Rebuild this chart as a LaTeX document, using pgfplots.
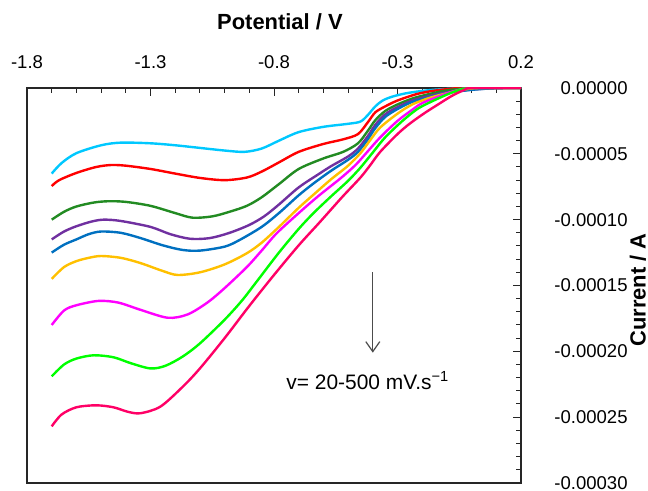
\documentclass[border=0pt]{standalone}
\usepackage{fontspec}
\setmainfont{Liberation Sans}
\usepackage{pgfplots}
\pgfplotsset{compat=1.18}
\usetikzlibrary{arrows.meta}

\definecolor{cC}{RGB}{0,200,255}
\definecolor{cR}{RGB}{255,0,0}
\definecolor{cG}{RGB}{34,139,34}
\definecolor{cP}{RGB}{112,48,160}
\definecolor{cB}{RGB}{0,112,192}
\definecolor{cO}{RGB}{255,192,0}
\definecolor{cM}{RGB}{255,0,255}
\definecolor{cL}{RGB}{0,255,0}
\definecolor{cK}{RGB}{255,0,102}

\begin{document}
\begin{tikzpicture}
\path[use as bounding box] (-13.5bp,-4bp) rectangle (310.5bp,241.5bp);
\begin{axis}[
  scale only axis,
  width=247bp, height=197.5bp,
  xmin=-1.8, xmax=0.2,
  ymin=-0.0003, ymax=0,
  axis line style={line width=0.6bp, black!85},
  tick align=inside,
  major tick length=4bp, minor tick length=2.5bp,
  tick style={black!85, line width=0.5bp},
  xtick pos=upper, xticklabel pos=upper,
  ytick pos=right, yticklabel pos=right,
  xtick={-1.8,-1.3,-0.8,-0.3,0.2},
  xticklabels={-1.8,-1.3,-0.8,-0.3,0.2},
  minor x tick num=4,
  ytick={0,-0.00005,-0.0001,-0.00015,-0.0002,-0.00025,-0.0003},
  yticklabels={0.00000,-0.00005,-0.00010,-0.00015,-0.00020,-0.00025,-0.00030},
  minor y tick num=4,
  scaled y ticks=false, scaled x ticks=false,
  ticklabel style={font=\fontsize{9.3}{11}\selectfont},
  xticklabel style={anchor=center, inner sep=0pt, yshift=13bp},
  yticklabel style={anchor=east, inner sep=0pt, xshift=53.5bp},
  xlabel={Potential / V},
  ylabel={Current / A},
  every axis x label/.style={at={(rel axis cs:0.512,1)}, yshift=33bp, anchor=center,
    font=\bfseries\fontsize{11}{13}\selectfont},
  every axis y label/.style={at={(rel axis cs:1,0.489)}, xshift=58.5bp, anchor=center,
    rotate=90, font=\bfseries\fontsize{11}{13}\selectfont},
  every axis plot/.append style={line width=1.2bp, smooth, no markers},
  clip=true,
]
% cyan
\addplot[cC] coordinates {(-1.70,-6.5e-5) (-1.66,-5.7e-5) (-1.60,-4.95e-5) (-1.50,-4.35e-5) (-1.42,-4.15e-5) (-1.30,-4.2e-5) (-1.20,-4.35e-5) (-1.10,-4.55e-5) (-1.00,-4.75e-5) (-0.92,-4.85e-5) (-0.85,-4.6e-5) (-0.78,-4.0e-5) (-0.70,-3.35e-5) (-0.60,-2.95e-5) (-0.50,-2.72e-5) (-0.45,-2.55e-5) (-0.42,-2.05e-5) (-0.39,-1.4e-5) (-0.36,-0.95e-5) (-0.32,-0.65e-5) (-0.27,-0.42e-5) (-0.22,-0.27e-5) (-0.15,-0.13e-5) (-0.05,-0.03e-5) (0.05,0) (0.2,0)};
% red
\addplot[cR] coordinates {(-1.70,-7.45e-5) (-1.67,-7.0e-5) (-1.60,-6.45e-5) (-1.52,-6.0e-5) (-1.46,-5.85e-5) (-1.40,-5.9e-5) (-1.30,-6.15e-5) (-1.20,-6.5e-5) (-1.10,-6.83e-5) (-1.00,-7.0e-5) (-0.91,-6.8e-5) (-0.85,-6.35e-5) (-0.78,-5.65e-5) (-0.70,-4.85e-5) (-0.60,-4.25e-5) (-0.52,-3.9e-5) (-0.46,-3.5e-5) (-0.42,-2.6e-5) (-0.39,-1.85e-5) (-0.35,-1.4e-5) (-0.30,-0.95e-5) (-0.22,-0.45e-5) (-0.15,-0.2e-5) (-0.08,-0.05e-5) (-0.03,0) (0.2,0)};
% dark green
\addplot[cG] coordinates {(-1.70,-10.0e-5) (-1.65,-9.4e-5) (-1.60,-9.0e-5) (-1.53,-8.7e-5) (-1.47,-8.6e-5) (-1.40,-8.65e-5) (-1.30,-8.95e-5) (-1.20,-9.5e-5) (-1.13,-9.85e-5) (-1.05,-9.75e-5) (-0.98,-9.4e-5) (-0.91,-8.95e-5) (-0.85,-8.3e-5) (-0.78,-7.3e-5) (-0.70,-6.15e-5) (-0.60,-5.35e-5) (-0.52,-4.85e-5) (-0.46,-4.2e-5) (-0.42,-3.25e-5) (-0.39,-2.45e-5) (-0.35,-1.75e-5) (-0.30,-1.25e-5) (-0.24,-0.8e-5) (-0.17,-0.45e-5) (-0.10,-0.18e-5) (-0.03,-0.03e-5) (0.02,0) (0.2,0)};
% purple
\addplot[cP] coordinates {(-1.70,-11.5e-5) (-1.65,-10.9e-5) (-1.60,-10.5e-5) (-1.54,-10.15e-5) (-1.49,-10.0e-5) (-1.42,-10.1e-5) (-1.30,-10.55e-5) (-1.22,-11.1e-5) (-1.14,-11.45e-5) (-1.06,-11.4e-5) (-0.98,-11.0e-5) (-0.90,-10.4e-5) (-0.84,-9.75e-5) (-0.78,-8.85e-5) (-0.70,-7.55e-5) (-0.62,-6.55e-5) (-0.57,-5.95e-5) (-0.50,-5.2e-5) (-0.46,-4.6e-5) (-0.42,-3.65e-5) (-0.39,-2.8e-5) (-0.35,-2.0e-5) (-0.30,-1.45e-5) (-0.24,-0.95e-5) (-0.17,-0.6e-5) (-0.10,-0.33e-5) (0.0,-0.12e-5) (0.08,-0.03e-5) (0.14,0) (0.2,0)};
% blue
\addplot[cB] coordinates {(-1.70,-12.5e-5) (-1.65,-11.9e-5) (-1.60,-11.5e-5) (-1.55,-11.1e-5) (-1.50,-10.9e-5) (-1.42,-11.0e-5) (-1.34,-11.4e-5) (-1.25,-11.95e-5) (-1.17,-12.3e-5) (-1.10,-12.35e-5) (-1.00,-12.05e-5) (-0.94,-11.55e-5) (-0.85,-10.55e-5) (-0.78,-9.5e-5) (-0.70,-8.15e-5) (-0.64,-7.25e-5) (-0.57,-6.3e-5) (-0.50,-5.45e-5) (-0.46,-4.85e-5) (-0.42,-3.9e-5) (-0.39,-3.05e-5) (-0.35,-2.2e-5) (-0.30,-1.6e-5) (-0.24,-1.05e-5) (-0.17,-0.7e-5) (-0.10,-0.38e-5) (0.0,-0.14e-5) (0.08,-0.03e-5) (0.14,0) (0.2,0)};
% orange
\addplot[cO] coordinates {(-1.70,-14.5e-5) (-1.65,-13.6e-5) (-1.60,-13.15e-5) (-1.55,-12.9e-5) (-1.50,-12.76e-5) (-1.42,-12.9e-5) (-1.34,-13.3e-5) (-1.25,-13.9e-5) (-1.19,-14.2e-5) (-1.10,-14.0e-5) (-1.00,-13.4e-5) (-0.91,-12.55e-5) (-0.85,-11.75e-5) (-0.78,-10.55e-5) (-0.70,-9.1e-5) (-0.64,-8.1e-5) (-0.57,-6.95e-5) (-0.50,-5.9e-5) (-0.45,-4.95e-5) (-0.41,-3.95e-5) (-0.37,-3.0e-5) (-0.30,-1.95e-5) (-0.24,-1.25e-5) (-0.17,-0.75e-5) (-0.10,-0.4e-5) (-0.03,-0.12e-5) (0.03,0) (0.2,0)};
% magenta
\addplot[cM] coordinates {(-1.70,-18.0e-5) (-1.65,-16.9e-5) (-1.60,-16.5e-5) (-1.51,-16.17e-5) (-1.43,-16.3e-5) (-1.34,-16.85e-5) (-1.23,-17.45e-5) (-1.15,-17.2e-5) (-1.07,-16.3e-5) (-1.00,-15.2e-5) (-0.91,-13.6e-5) (-0.85,-12.35e-5) (-0.79,-11.05e-5) (-0.70,-9.5e-5) (-0.62,-8.2e-5) (-0.53,-6.85e-5) (-0.47,-5.85e-5) (-0.42,-4.8e-5) (-0.37,-3.75e-5) (-0.30,-2.5e-5) (-0.24,-1.65e-5) (-0.20,-1.15e-5) (-0.12,-0.55e-5) (-0.06,-0.18e-5) (0.0,0) (0.2,0)};
% lime
\addplot[cL] coordinates {(-1.70,-21.9e-5) (-1.65,-21.0e-5) (-1.60,-20.55e-5) (-1.53,-20.3e-5) (-1.45,-20.45e-5) (-1.38,-20.9e-5) (-1.30,-21.3e-5) (-1.24,-21.1e-5) (-1.17,-20.4e-5) (-1.10,-19.4e-5) (-1.00,-17.6e-5) (-0.93,-16.15e-5) (-0.87,-14.7e-5) (-0.78,-12.5e-5) (-0.70,-10.7e-5) (-0.64,-9.5e-5) (-0.57,-8.25e-5) (-0.50,-7.05e-5) (-0.45,-6.05e-5) (-0.40,-4.9e-5) (-0.35,-3.75e-5) (-0.28,-2.5e-5) (-0.22,-1.6e-5) (-0.17,-1.1e-5) (-0.10,-0.5e-5) (-0.05,-0.15e-5) (0.0,0) (0.2,0)};
% crimson
\addplot[cK] coordinates {(-1.70,-25.7e-5) (-1.66,-24.8e-5) (-1.60,-24.25e-5) (-1.52,-24.1e-5) (-1.45,-24.25e-5) (-1.39,-24.6e-5) (-1.34,-24.7e-5) (-1.26,-24.2e-5) (-1.17,-22.7e-5) (-1.10,-21.3e-5) (-1.00,-19.0e-5) (-0.90,-16.55e-5) (-0.80,-14.2e-5) (-0.70,-11.95e-5) (-0.62,-10.3e-5) (-0.57,-9.25e-5) (-0.52,-8.2e-5) (-0.45,-6.8e-5) (-0.41,-5.85e-5) (-0.37,-4.85e-5) (-0.30,-3.5e-5) (-0.25,-2.7e-5) (-0.19,-1.9e-5) (-0.14,-1.3e-5) (-0.08,-0.6e-5) (-0.03,-0.15e-5) (0.0,0) (0.2,0)};

\draw[black!70, line width=0.6bp, -{Straight Barb[length=5bp,width=7bp]}]
  (axis cs:-0.40,-0.000140) -- (axis cs:-0.40,-0.000201);
\node[font=\fontsize{10.5}{12}\selectfont] at (axis cs:-0.42,-0.000222)
  {v= 20-500 mV.s\textsuperscript{−1}};
\end{axis}
\end{tikzpicture}
\end{document}
